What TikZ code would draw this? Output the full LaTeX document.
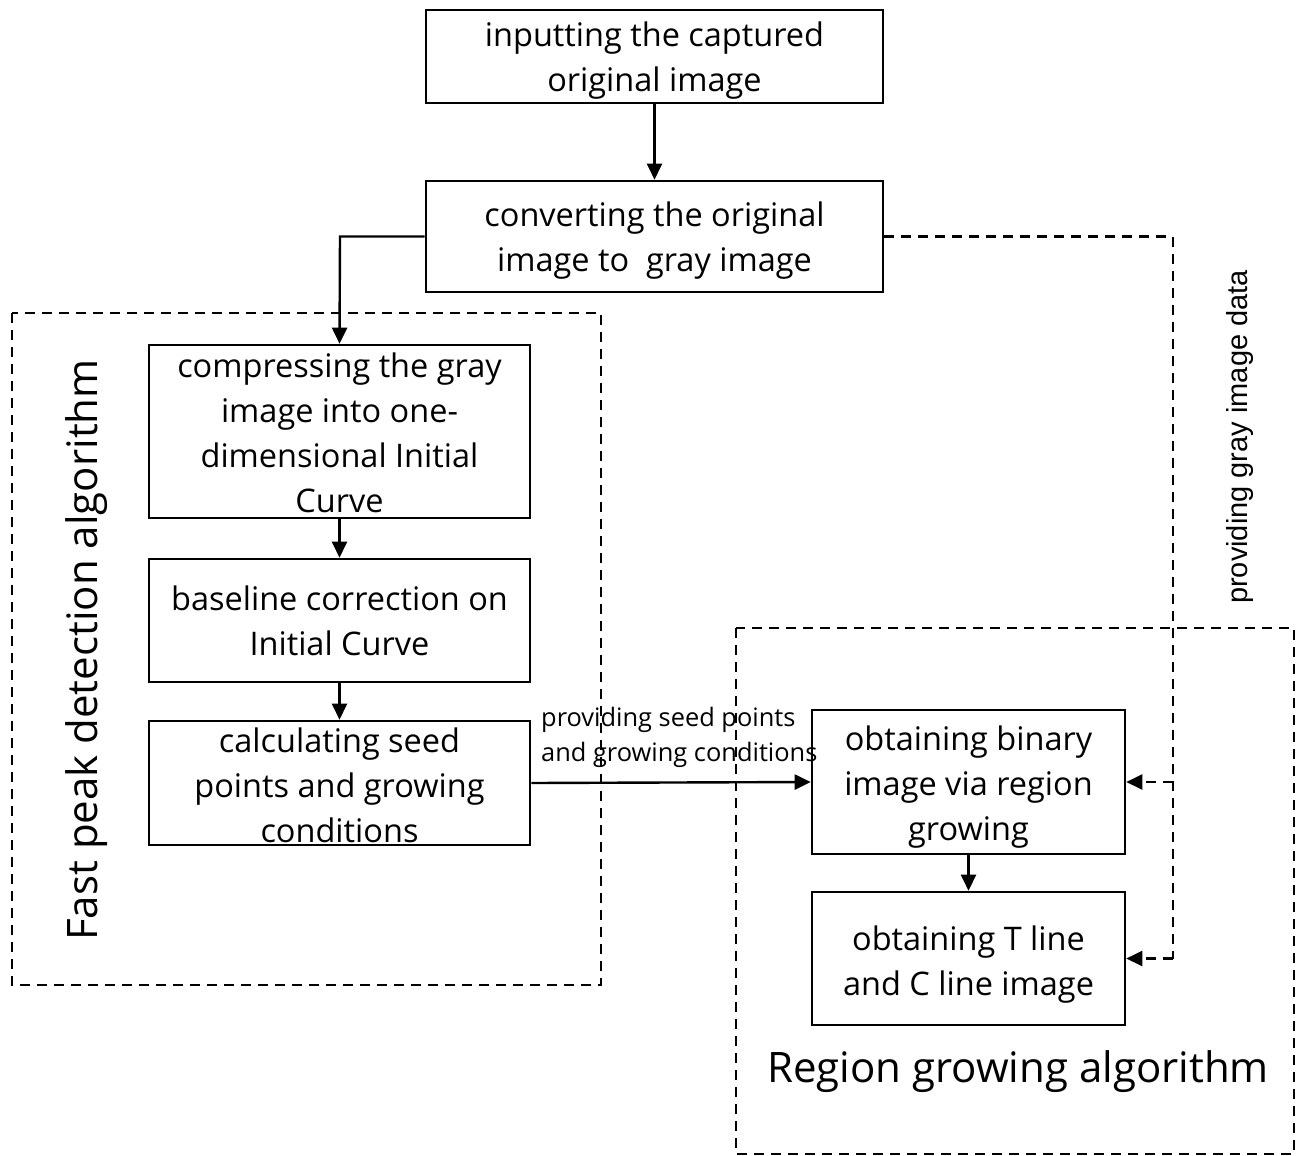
\documentclass[tikz,border=0pt]{standalone}
\usepackage{fontspec}
\setmainfont{Open Sans}
\newfontfamily\labelfont{Liberation Sans}
\usetikzlibrary{arrows.meta}
% invisible strut that makes the first text line taller, pushing the block down
\newcommand\topstrut[1]{\rule{0pt}{#1}}
\begin{document}
\begin{tikzpicture}[x=1pt,y=-1pt,
  box/.style={draw, line width=2.6pt, inner sep=0pt, align=center,
    font=\fontsize{32.5}{45}\selectfont},
  frame/.style={draw, line width=2.4pt, dash pattern=on 10pt off 7pt},
  flow/.style={line width=2.4pt, -{Triangle[length=16pt,width=15pt]}},
  feed/.style={line width=2.4pt, dash pattern=on 10pt off 7pt, -{Triangle[length=16pt,width=15pt]}},
  title/.style={inner sep=0pt, font=\fontsize{42}{48}\selectfont},
  note/.style={inner sep=0pt, align=left, font=\fontsize{25.4}{35}\selectfont}]
\useasboundingbox (0,0) rectangle (1296,1156);

% group frames
\draw[frame] (12,313) rectangle (601,985);
\draw[frame] (736,628) rectangle (1294,1154);

% process boxes
\node[box, minimum width=457pt, minimum height=93pt] (input) at (654.5,56.5)
  {\topstrut{33pt}inputting the captured\\original image};
\node[box, minimum width=457pt, minimum height=111pt] (gray) at (654.5,236.5)
  {\topstrut{33pt}converting the original\\image to\ \ gray image};
\node[box, minimum width=381pt, minimum height=173pt] (compress) at (339.5,431.5)
  {\topstrut{27pt}compressing the gray\\image into one-\\dimensional Initial\\Curve};
\node[box, minimum width=381pt, minimum height=123pt] (baseline) at (339.5,620.5)
  {baseline correction on\\Initial Curve};
\node[box, minimum width=381pt, minimum height=124pt] (seed) at (339.5,783)
  {\topstrut{29pt}calculating seed\\points and growing\\conditions};
\node[box, minimum width=313pt, minimum height=144pt] (binary) at (968.5,782)
  {\topstrut{35pt}obtaining binary\\image via region\\growing};
\node[box, minimum width=313pt, minimum height=133pt] (tline) at (968.5,958.5)
  {\topstrut{37pt}obtaining T line\\and C line image};

% group titles
\node[title, rotate=90] (fastlbl) at (87,650) {Fast peak detection algorithm};
\node[title] (regionlbl) at (1018,1072) {Region growing algorithm};

% main flow
\draw[flow] (input) -- (gray);
\coordinate (turn) at (340,236.5);
\draw[flow] (gray.west) -- (turn) -- (compress.north);
\draw[flow] (compress) -- (baseline);
\draw[flow] (baseline) -- (seed);
\draw[flow] (seed.east) -- (binary.west);
\draw[flow] (binary) -- (tline);

\node[note, anchor=north west] (seedlbl) at (541,707)
  {providing seed points\\and growing conditions};

% gray image data feed
\coordinate (fcorner) at (1173,236.5);
\coordinate (fbranch) at (1173,782);
\coordinate (fend) at (1173,958.5);
\draw[line width=2.4pt, dash pattern=on 10pt off 7pt] (gray.east) -- (fcorner) -- (fend);
\draw[feed] (fbranch) -- (binary.east);
\draw[feed] (fend) -- (tline.east);
\node[inner sep=0pt, rotate=90, font=\labelfont\fontsize{29}{34}\selectfont] (graylbl)
  at (1240,437) {providing gray image data};
\end{tikzpicture}
\end{document}
